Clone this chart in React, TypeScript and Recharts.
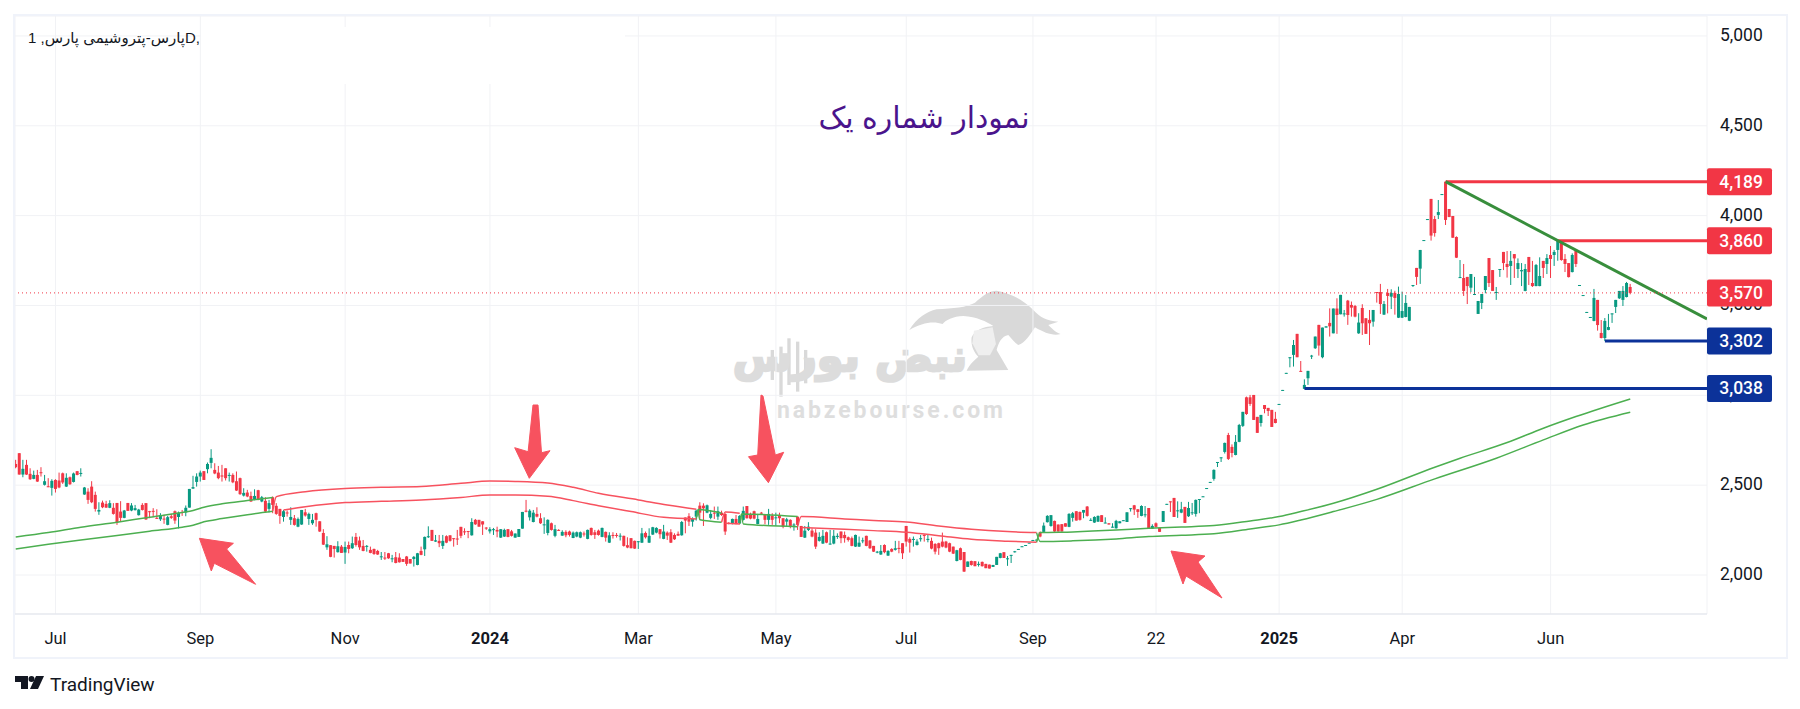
import React from "react";
import {
  ComposedChart,
  Bar,
  Line,
  XAxis,
  YAxis,
  CartesianGrid,
  ReferenceLine,
} from "recharts";

// [open, high, low, close], one row per daily bar
const bars2023a = [
  [2618,2641,2594,2600],[2678,2678,2559,2559],[2559,2641,2544,2591],[2613,2641,2557,2559],[2563,2594,2529,2533],[2535,2581,2533,2557],[2557,2585,2518,2520],[2572,2600,2548,2570],
  [2502,2557,2498,2522],[2494,2539,2489,2490],[2485,2533,2442,2524],[2529,2533,2459,2479],[2526,2570,2483,2487],[2566,2570,2507,2515],[2492,2566,2490,2541],[2544,2548,2502,2505],
  [2518,2570,2515,2565],[2578,2579,2555,2557],[2565,2594,2548,2568],[2448,2490,2446,2487],[2464,2483,2396,2418],[2492,2522,2400,2405],[2446,2464,2353,2368],[2353,2405,2335,2362],
  [2403,2414,2372,2377],[2396,2413,2374,2375],[2374,2416,2372,2400],[2374,2400,2336,2340],[2401,2401,2279,2292],[2353,2411,2297,2318],[2318,2362,2316,2359],[2401,2401,2357,2357],
  [2359,2400,2355,2387],[2361,2390,2359,2372],[2333,2368,2331,2364],[2390,2400,2359,2362],[2400,2400,2307,2309],[2355,2357,2316,2353],[2357,2372,2322,2355],[2318,2366,2312,2314],
  [2310,2344,2301,2333],[2314,2335,2285,2310],[2279,2329,2277,2322],[2327,2340,2312,2318],[2355,2359,2285,2303],[2323,2353,2259,2346],[2351,2362,2329,2348],[2348,2387,2327,2374],
];
const bars2023b = [
  [2375,2479,2375,2479],[2481,2552,2479,2489],[2518,2566,2492,2548],[2548,2581,2520,2570],[2578,2578,2529,2529],[2589,2626,2566,2618],[2624,2700,2594,2652],[2585,2622,2561,2565],
  [2570,2607,2533,2539],[2554,2613,2520,2548],[2594,2594,2526,2539],[2554,2570,2520,2557],[2557,2566,2511,2516],[2522,2576,2468,2470],[2539,2542,2446,2450],[2442,2483,2437,2457],
  [2459,2474,2433,2437],[2440,2464,2407,2409],[2420,2477,2416,2440],[2472,2474,2416,2418],[2409,2440,2405,2433],[2413,2433,2349,2353],[2368,2418,2348,2400],[2433,2437,2344,2390],
  [2385,2400,2335,2340],[2368,2368,2285,2329],[2323,2362,2297,2355],[2348,2359,2325,2344],[2307,2377,2279,2323],[2316,2334,2275,2279],[2269,2320,2266,2312],[2281,2362,2279,2362],
  [2349,2368,2325,2331],[2312,2347,2279,2340],[2288,2340,2279,2307],[2344,2347,2269,2307],[2299,2299,2240,2242],[2234,2255,2167,2169],[2154,2216,2140,2171],[2166,2166,2099,2101],
  [2162,2162,2097,2145],[2127,2188,2125,2160],[2158,2167,2123,2123],[2125,2186,2062,2156],[2167,2186,2121,2145],[2149,2214,2145,2177],[2212,2234,2158,2167],[2192,2214,2140,2154],
  [2162,2195,2132,2134],[2158,2167,2130,2162],[2140,2158,2121,2123],[2145,2147,2112,2117],[2134,2140,2112,2114],[2101,2128,2084,2104],[2097,2128,2084,2093],[2121,2123,2090,2093],
];
const bars2023c = [
  [2088,2112,2071,2093],[2099,2128,2065,2067],[2097,2121,2069,2071],[2089,2089,2073,2073],[2103,2106,2051,2062],[2089,2089,2064,2064],[2089,2106,2047,2101],[2056,2123,2054,2121],
  [2134,2158,2110,2112],[2143,2214,2106,2212],[2210,2271,2206,2216],[2251,2251,2190,2190],[2186,2223,2184,2193],[2190,2223,2155,2177],[2162,2223,2145,2190],[2216,2221,2177,2180],
  [2221,2221,2186,2190],[2205,2205,2158,2201],[2203,2251,2167,2199],[2268,2268,2205,2218],[2243,2260,2223,2238],[2245,2245,2205,2242],[2221,2316,2219,2295],[2307,2312,2279,2282],
  [2307,2307,2269,2269],[2299,2299,2223,2281],[2264,2266,2251,2260],[2243,2266,2231,2255],[2251,2262,2223,2255],[2251,2269,2210,2242],[2208,2256,2206,2255],[2214,2258,2212,2251],
  [2255,2256,2210,2212],[2243,2251,2214,2218],[2208,2231,2208,2231],[2212,2256,2212,2256],[2258,2351,2258,2351],[2358,2418,2349,2353],[2321,2366,2303,2358],[2295,2362,2293,2347],
  [2340,2377,2321,2325],[2316,2344,2284,2288],[2279,2321,2229,2282],[2234,2310,2221,2307],[2288,2292,2247,2251],[2218,2279,2210,2255],[2251,2255,2245,2247],[2219,2249,2218,2240],
  [2240,2249,2210,2221],
];
const bars2024a = [
  [2242,2247,2214,2223],[2206,2242,2205,2236],[2214,2242,2210,2238],[2208,2242,2205,2238],[2231,2242,2214,2227],[2201,2253,2199,2251],[2262,2264,2219,2223],[2238,2251,2201,2223],
  [2247,2253,2219,2223],[2212,2264,2210,2262],[2240,2242,2186,2208],[2180,2238,2178,2221],[2223,2238,2203,2218],[2223,2234,2208,2219],[2218,2232,2192,2219],[2218,2219,2158,2162],
  [2166,2210,2149,2153],[2205,2206,2149,2149],[2190,2192,2145,2147],[2186,2188,2145,2188],[2180,2262,2178,2232],[2234,2242,2203,2210],[2180,2260,2178,2218],[2225,2268,2223,2266],
  [2236,2266,2232,2262],[2255,2256,2203,2227],[2201,2279,2199,2242],[2236,2243,2195,2219],[2238,2255,2178,2180],[2223,2232,2195,2199],[2229,2242,2218,2219],[2221,2301,2219,2295],
  [2320,2320,2232,2303],[2327,2344,2273,2297],[2297,2321,2269,2312],[2325,2364,2303,2358],[2386,2405,2310,2347],[2386,2399,2273,2371],[2347,2392,2344,2388],[2318,2362,2310,2340],
  [2347,2381,2312,2342],[2325,2381,2307,2355],[2347,2358,2329,2334],[2340,2344,2223,2242],[2290,2294,2282,2286],[2288,2314,2282,2312],[2312,2334,2282,2284],[2288,2333,2282,2329],
];
const bars2024b = [
  [2307,2381,2303,2357],[2384,2384,2314,2316],[2340,2347,2310,2314],[2355,2358,2310,2314],[2284,2340,2282,2312],[2347,2351,2340,2344],[2336,2340,2282,2307],[2307,2368,2279,2340],
  [2329,2344,2279,2307],[2316,2347,2273,2321],[2329,2347,2288,2316],[2316,2316,2260,2269],[2297,2318,2273,2310],[2307,2310,2260,2273],[2277,2288,2247,2281],[2325,2325,2251,2279],
  [2273,2273,2212,2212],[2208,2273,2206,2247],[2251,2294,2245,2269],[2247,2260,2210,2214],[2236,2255,2145,2158],[2190,2238,2186,2212],[2175,2251,2173,2218],[2238,2242,2177,2180],
  [2171,2251,2169,2175],[2175,2251,2171,2218],[2212,2232,2201,2218],[2242,2242,2177,2205],[2223,2242,2180,2205],[2210,2214,2186,2195],[2205,2214,2160,2162],[2158,2225,2156,2223],
  [2158,2214,2156,2180],[2190,2208,2177,2193],[2218,2219,2160,2162],[2192,2195,2145,2149],[2162,2162,2128,2130],[2127,2134,2121,2130],[2114,2167,2112,2134],[2167,2171,2121,2127],
  [2108,2138,2106,2134],[2145,2149,2127,2130],[2140,2190,2136,2149],[2151,2190,2121,2145],[2177,2177,2089,2121],[2273,2273,2158,2186],[2201,2210,2125,2180],[2195,2214,2158,2201],
  [2167,2199,2164,2186],[2199,2223,2186,2205],[2223,2227,2186,2219],[2195,2223,2182,2201],[2190,2208,2143,2147],[2173,2177,2115,2130],[2177,2180,2112,2149],[2186,2236,2154,2158],
  [2186,2190,2149,2153],[2177,2180,2127,2130],[2158,2158,2117,2119],[2078,2140,2076,2138],[2149,2153,2082,2084],[2128,2128,2017,2019],
];
const bars2024c = [
  [2045,2075,2045,2075],[2078,2080,2052,2056],[2077,2077,2049,2049],[2058,2075,2047,2062],[2073,2075,2047,2049],[2062,2062,2038,2038],[2058,2058,2036,2036],[2045,2056,2045,2056],
  [2056,2101,2056,2101],[2095,2123,2093,2121],[2127,2127,2095,2095],[2091,2106,2051,2093],[2108,2112,2067,2112],[2127,2134,2125,2132],[2141,2145,2141,2145],[2156,2160,2156,2160],
  [2164,2167,2164,2167],[2177,2180,2177,2180],[2192,2195,2192,2195],[2194,2197,2194,2197],[2238,2242,2210,2214],[2240,2292,2238,2275],[2294,2333,2292,2329],[2273,2334,2269,2333],
  [2301,2303,2240,2242],[2281,2281,2242,2242],[2283,2283,2242,2242],[2288,2288,2269,2269],[2268,2344,2266,2340],[2318,2351,2297,2344],[2355,2355,2303,2303],[2351,2353,2303,2307],
  [2347,2362,2316,2362],[2381,2384,2325,2329],[2305,2316,2301,2307],[2292,2327,2290,2323],[2297,2331,2295,2329],[2333,2333,2295,2295],[2290,2321,2288,2292],[2288,2288,2281,2281],
  [2266,2288,2264,2269],[2260,2307,2258,2301],[2288,2299,2288,2299],[2301,2305,2301,2305],[2295,2349,2295,2349],[2368,2373,2353,2372],[2388,2390,2334,2364],[2366,2366,2318,2351],
  [2329,2388,2327,2384],[2334,2384,2321,2338],[2373,2373,2260,2260],[2258,2282,2256,2273],[2288,2293,2264,2268],[2262,2262,2240,2240],[2295,2356,2295,2356],[2392,2396,2392,2396],
  [2410,2410,2351,2407],[2429,2429,2323,2323],[2356,2410,2318,2360],[2347,2407,2344,2366],[2379,2379,2290,2290],[2327,2407,2323,2373],[2345,2401,2334,2349],[2340,2420,2325,2418],
  [2420,2423,2344,2423],[2434,2438,2434,2438],[2481,2484,2481,2484],[2514,2518,2514,2518],[2535,2588,2525,2585],[2625,2629,2601,2629],[2652,2655,2629,2655],[2685,2737,2676,2735],
  [2779,2791,2640,2646],[2713,2727,2655,2679],[2668,2779,2666,2741],[2741,2841,2739,2835],[2830,2908,2824,2908],[2989,2993,2891,2896],[2989,3002,2941,2952],[3002,3002,2863,2863],
  [2880,2880,2791,2791],[2846,2891,2826,2891],[2946,2946,2900,2924],[2930,2930,2885,2913],[2919,2919,2824,2824],[2869,2908,2844,2846],[2948,2952,2948,2952],[3027,3030,3027,3030],
];
const bars2025a = [
  [3121,3125,3121,3125],[3208,3212,3156,3212],[3225,3308,3160,3280],[3342,3342,3212,3212],[3136,3191,3132,3132],[3036,3089,3036,3058],[3095,3136,3058,3136],[3217,3225,3202,3221],
  [3262,3327,3258,3327],[3392,3392,3221,3277],[3212,3377,3206,3377],[3377,3384,3377,3384],[3403,3484,3327,3384],[3345,3483,3345,3483],[3483,3540,3342,3447],[3451,3559,3451,3559],
  [3453,3475,3438,3456],[3527,3531,3392,3447],[3503,3522,3438,3488],[3497,3503,3434,3438],[3345,3457,3342,3405],[3486,3507,3336,3401],[3429,3429,3342,3342],[3420,3475,3280,3401],
  [3410,3475,3382,3475],
];
const bars2025b = [
  [3575,3575,3516,3571],[3575,3620,3453,3508],[3449,3525,3447,3508],[3570,3592,3456,3553],[3549,3590,3480,3570],[3570,3582,3449,3542],[3432,3605,3430,3564],[3432,3577,3430,3469],
  [3436,3558,3434,3514],[3415,3492,3413,3492],[3610,3614,3603,3614],[3709,3709,3614,3659],[3705,3809,3620,3809],[3861,3864,3861,3864],[3978,3981,3978,3981],[4093,4093,3861,3889],
  [3981,3998,3883,3903],[4004,4087,3981,4020],[4117,4120,4117,4120],[4189,4189,3948,3976],[4037,4037,3992,3992],[3998,3998,3877,3877],[3881,3885,3764,3766],[3655,3753,3653,3658],
  [3653,3731,3553,3581],[3659,3659,3508,3608],[3599,3675,3575,3675],[3560,3659,3558,3564],[3453,3525,3453,3525],[3514,3564,3480,3564],[3586,3664,3568,3664],[3764,3764,3603,3625],
  [3697,3697,3581,3581],[3570,3603,3531,3575],[3699,3703,3659,3703],[3798,3798,3697,3736],[3731,3803,3655,3714],[3720,3803,3614,3748],[3786,3786,3653,3762],[3703,3762,3653,3736],
  [3690,3736,3608,3697],[3581,3731,3579,3703],[3770,3770,3614,3686],[3625,3748,3603,3608],[3608,3731,3607,3725],[3608,3768,3607,3664],[3748,3748,3653,3709],[3731,3786,3675,3764],
  [3781,3831,3653,3759],[3781,3809,3720,3798],[3809,3864,3749,3859],[3859,3859,3749,3753],[3759,3786,3686,3731],[3736,3736,3656,3658],[3686,3790,3684,3781],[3803,3809,3714,3731],
  [3610,3614,3610,3614],[3555,3558,3555,3558],[3460,3464,3460,3464],[3432,3436,3432,3436],[3414,3592,3412,3542],[3531,3531,3360,3391],[3347,3419,3317,3319],[3319,3430,3302,3414],
  [3364,3453,3362,3380],[3451,3456,3403,3456],[3492,3531,3458,3531],[3540,3581,3536,3581],[3531,3608,3497,3581],[3547,3631,3545,3625],[3603,3620,3562,3570],
];

// moving average envelope, [bar index, price]; colour flips when price crosses it
const greenUpper1 = [[0,2212],[9,2236],[18,2266],[28,2294],[37,2322],[46,2348],[49,2359],[52,2377],[57,2396],[64,2414],[71,2431]];
const greenLower1 = [[0,2145],[9,2171],[18,2195],[28,2220],[37,2244],[46,2266],[49,2277],[52,2296],[57,2314],[64,2336],[71,2355]];
const redUpper1 = [[71,2355],[72,2436],[80,2464],[91,2482],[101,2488],[112,2492],[123,2510],[131,2523],[138,2521],[147,2512],[154,2488],[161,2455],[172,2418],[180,2390],[188,2366]];
const redLower1 = [[74,2362],[80,2380],[91,2403],[101,2410],[112,2418],[123,2432],[131,2445],[138,2445],[147,2438],[154,2414],[161,2386],[170,2353],[179,2321],[188,2312]];
const greenUpper2 = [[188,2312],[188.5,2364],[195,2344]];
const greenLower2 = [[188.5,2364],[189,2307],[195,2294]];
const redUpper2 = [[195,2294],[196,2351],[200,2344]];
const redLower2 = [[196,2288],[200,2284]];
const greenUpper3 = [[200,2284],[200.5,2340],[216,2325]];
const greenLower3 = [[200.5,2340],[201,2284],[216,2269]];
const redUpper3 = [[216,2269],[217,2325],[229,2312],[237,2303],[246,2295],[255,2273],[264,2255],[274,2242],[282,2236]];
const redLower3 = [[217,2264],[229,2254],[237,2247],[246,2238],[255,2219],[264,2199],[274,2188],[282,2182]];
const greenUpper4 = [[282,2182],[283,2236],[292,2240],[304,2250],[313,2260],[322,2267],[331,2275],[341,2301],[349,2325],[355,2353],[364,2399],[376,2477],[392,2600],[399,2650],[412,2737],[422,2817],[431,2882],[446,2980]];
const greenLower4 = [[282,2236],[283,2186],[292,2190],[304,2201],[313,2214],[322,2221],[331,2229],[341,2256],[349,2279],[355,2306],[364,2353],[376,2421],[392,2535],[409,2650],[422,2752],[433,2835],[446,2906]];

const maGreen = [greenUpper1, greenLower1, greenUpper2, greenLower2, greenUpper3, greenLower3, greenUpper4, greenLower4];
const maRed = [redUpper1, redLower1, redUpper2, redLower2, redUpper3, redLower3];

// drawn levels, [start bar, price]
const levelStarts = [[395,4189],[426,3860],[439,3302],[356,3038]];
const levelColors = ["#f23645","#f23645","#0c3299","#0c3299"];
const trendLine = [[395,4189],[467.2,3425]];

const priceTags = [4189,3860,3570,3302,3038];
const tagColors = ["#f23645","#f23645","#f23645","#0c3299","#0c3299"];

const priceTicks = [2000,2500,3000,3500,4000,4500,5000];
const timeTicks = [11,51,91,131,172,210,246,281,315,349,383,424];
const timeLabels = ["Jul","Sep","Nov","2024","Mar","May","Jul","Sep","22","2025","Apr","Jun"];
const yearLabels = ["2024","2025"];

const X_DOMAIN = [-0.2, 467.2];
const Y_DOMAIN = [1783, 5111];
const UP = "#089981";
const DOWN = "#f23645";
const FONT = "Roboto, sans-serif";
const MARGIN = { top: 16, right: 15, bottom: 53, left: 15 };

const allBars = [...bars2023a, ...bars2023b, ...bars2023c, ...bars2024a, ...bars2024b, ...bars2024c, ...bars2025a, ...bars2025b];
const chartData = allBars.map(([o, h, l, c], i) => ({ x: i, o, h, l, c, range: [l, h] }));
const toPoints = (pts: number[][]) => pts.map(([x, v]) => ({ x, v }));

function Candle(props: any) {
  const { x, y, width, height, payload } = props;
  const { o, h, l, c } = payload;
  const cx = x + width / 2;
  const k = h === l ? 0 : height / (h - l);
  const top = y + (h - Math.max(o, c)) * k;
  const bodyH = Math.max(1, Math.abs(o - c) * k);
  const color = c >= o ? UP : DOWN;
  return (
    <g>
      <line x1={cx} x2={cx} y1={y} y2={y + height} stroke={color} strokeWidth={1} />
      <rect x={cx - 1.5} y={top} width={3} height={bodyH} fill={color} />
    </g>
  );
}

function TimeTick({ x, y, payload }: any) {
  const label = timeLabels[timeTicks.indexOf(payload.value)];
  return (
    <text x={x} y={y} dy={22} textAnchor="middle" fontFamily={FONT} fontSize={16.5}
      fontWeight={yearLabels.includes(label) ? 700 : 400} fill="#131722">
      {label}
    </text>
  );
}

function PriceTick({ x, y, payload }: any) {
  return (
    <text x={x + 5} y={y} dy={5} textAnchor="start" fontFamily={FONT} fontSize={17.5} fill="#131722">
      {payload.value.toLocaleString("en-US")}
    </text>
  );
}

function PriceTag({ viewBox, value, color }: any) {
  const left = viewBox.x + viewBox.width;
  const mid = viewBox.y;
  return (
    <g>
      <rect x={left} y={mid - 13.5} width={65} height={27} rx={2} fill={color} />
      <text x={left + 56} y={mid} dy={6} textAnchor="end" fontFamily={FONT} fontSize={17.5} fontWeight={500} fill="#fff">
        {value.toLocaleString("en-US")}
      </text>
    </g>
  );
}

function Watermark() {
  return (
    <svg width={1800} height={709} style={{ position: "absolute", left: 0, top: 0 }}>
      <g transform="translate(700 80) scale(0.3333)" fill="#d9d9d9">
        <path d="M628 750 C650 715 680 695 710 688 C760 685 800 682 825 668 C850 645 870 632 890 632 C930 640 965 655 1000 690 C1020 712 1040 722 1075 725 L1045 735 C1060 750 1070 758 1082 762 C1060 768 1035 760 1005 742 C990 765 975 790 955 795 C945 790 935 775 925 765 C905 768 895 790 890 810 L925 870 L800 872 C810 850 825 840 835 830 C820 815 812 795 815 772 C825 750 850 740 880 738 C860 725 830 710 790 708 C760 708 735 722 728 732 C700 722 665 728 628 750 Z" />
        <path d="M822 752 L878 742 L888 792 L870 826 L836 826 L817 790 Z" fill="#efefef" />
        <rect x="212" y="810" width="10" height="90" />
        <rect x="238" y="800" width="10" height="150" />
        <rect x="262" y="775" width="10" height="140" />
        <rect x="288" y="785" width="10" height="150" />
        <rect x="312" y="810" width="10" height="100" />
      </g>
      <text x={850} y={371} textAnchor="middle" fontFamily="DejaVu Sans" fontWeight={700} fontSize={43}
        fill="#dcdcdc" stroke="#dcdcdc" strokeWidth={2.5} direction="rtl">
        نبض بورس
      </text>
      <text x={890} y={418} textAnchor="middle" fontFamily="Roboto" fontWeight={700} fontSize={23}
        fill="#dedede" textLength={226}>
        nabzebourse.com
      </text>
    </svg>
  );
}

function Annotations() {
  return (
    <svg width={1800} height={709} style={{ position: "absolute", left: 0, top: 0, pointerEvents: "none" }}>
      <g fill="#f7525f" stroke="#f7525f" strokeWidth={1} strokeLinejoin="round">
        <polygon points="199.4,538.3 233.4,543.3 226.6,549 255.6,584.3 214.3,563.3 211.3,571" />
        <polygon points="533,405 538,405 541.5,452.7 550,450.7 529.3,478.3 514.7,447.7 528.1,451.7" />
        <polygon points="761,395 763,396 775.3,455 783.7,452.3 768.4,482.7 748.5,456.7 757.7,455" />
        <polygon points="1171,551 1205,556 1198,562 1222,598 1186,576 1183,584" />
      </g>
      <g fill="#131722">
        <rect x={15} y={676} width={13} height={6} />
        <rect x={21} y={682} width={7} height={7} />
        <circle cx={31.5} cy={679} r={3} />
        <polygon points="36,676 44,676 38,689 30,689" />
      </g>
      <text x={50} y={691} fontFamily={FONT} fontSize={19} fill="#131722">TradingView</text>
    </svg>
  );
}

export default function App() {
  return (
    <div style={{ position: "absolute", left: 0, top: 0, width: 1800, height: 709, background: "#fff", overflow: "hidden" }}>
      <Watermark />
      <div style={{ position: "absolute", left: 0, top: 0 }}>
        <ComposedChart width={1800} height={709} data={chartData} margin={MARGIN}>
          <CartesianGrid stroke="#f1f2f5" strokeWidth={1} />
          <XAxis
            type="number"
            dataKey="x"
            domain={X_DOMAIN}
            ticks={timeTicks}
            interval={0}
            allowDataOverflow
            height={42}
            tick={<TimeTick />}
            tickLine={false}
            axisLine={{ stroke: "#e0e3eb", strokeWidth: 1 }}
          />
          <YAxis
            orientation="right"
            domain={Y_DOMAIN}
            ticks={priceTicks}
            interval={0}
            allowDataOverflow
            width={78}
            tick={<PriceTick />}
            tickLine={false}
            axisLine={false}
          />
          <Bar dataKey="range" barSize={3} shape={<Candle />} isAnimationActive={false} />
          {maGreen.map((pts, i) => (
            <Line key={"g" + i} data={toPoints(pts)} dataKey="v" type="monotone" stroke="#4caf50" strokeWidth={1.5}
              dot={false} activeDot={false} isAnimationActive={false} />
          ))}
          {maRed.map((pts, i) => (
            <Line key={"r" + i} data={toPoints(pts)} dataKey="v" type="monotone" stroke="#f7525f" strokeWidth={1.5}
              dot={false} activeDot={false} isAnimationActive={false} />
          ))}
          {levelStarts.map(([x, v], i) => (
            <Line key={"l" + i} data={toPoints([[x, v], [X_DOMAIN[1], v]])} dataKey="v" stroke={levelColors[i]} strokeWidth={3}
              dot={false} activeDot={false} isAnimationActive={false} />
          ))}
          <Line data={toPoints(trendLine)} dataKey="v" stroke="#388e3c" strokeWidth={3}
            dot={false} activeDot={false} isAnimationActive={false} />
        </ComposedChart>
      </div>
      {/* price tags sit above the axis labels, so they get their own layer on the same scales */}
      <div style={{ position: "absolute", left: 0, top: 0, pointerEvents: "none" }}>
        <ComposedChart width={1800} height={709} data={chartData} margin={MARGIN}>
          <XAxis type="number" dataKey="x" domain={X_DOMAIN} allowDataOverflow height={42} tick={false} tickLine={false} axisLine={false} />
          <YAxis orientation="right" domain={Y_DOMAIN} allowDataOverflow width={78} tick={false} tickLine={false} axisLine={false} />
          {priceTags.map((v, i) => (
            <ReferenceLine
              key={v}
              y={v}
              stroke={v === 3570 ? "#f23645" : "none"}
              strokeDasharray="1 3"
              label={(p: any) => <PriceTag viewBox={p.viewBox} value={v} color={tagColors[i]} />}
            />
          ))}
        </ComposedChart>
      </div>
      {/* pane frame */}
      <div style={{ position: "absolute", left: 13, top: 14, width: 1771, height: 641, border: "2px solid #f0f3fa", boxSizing: "content-box", pointerEvents: "none" }} />
      <div style={{ position: "absolute", left: 201, top: 27, width: 424, height: 57, background: "#fff" }} />
      <div dir="ltr" style={{ position: "absolute", left: 28, top: 29, fontFamily: "'Liberation Sans', 'DejaVu Sans'", fontSize: 15, color: "#131722", whiteSpace: "nowrap" }}>
        <span>1 ,</span>
        <bdi>پارس-پتروشیمی پارس</bdi>
        <span>D,</span>
      </div>
      <div dir="rtl" style={{ position: "absolute", left: 774, top: 100, width: 300, textAlign: "center", fontFamily: "'Liberation Sans', 'DejaVu Sans'", fontSize: 30, color: "#4a148c", whiteSpace: "nowrap" }}>
        نمودار شماره یک
      </div>
      <Annotations />
    </div>
  );
}
